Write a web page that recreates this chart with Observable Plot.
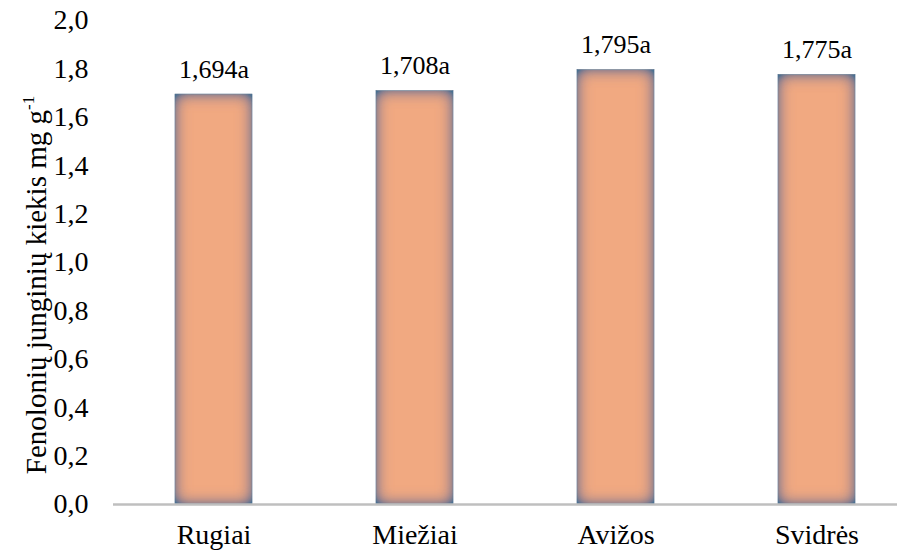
<!DOCTYPE html>
<html>
<head>
<meta charset="utf-8">
<script src="https://cdn.jsdelivr.net/npm/d3@7"></script>
<script src="https://cdn.jsdelivr.net/npm/@observablehq/plot@0.6"></script>
<style>
  html, body { margin: 0; padding: 0; background: #fff; }
  #chart { width: 913px; height: 554px; }
  text { font-family: "Liberation Serif" !important; }
</style>
</head>
<body>
<div id="chart"></div>
<script>
const categories = ["Rugiai", "Miežiai", "Avižos", "Svidrės"];
const values = [1.694, 1.708, 1.795, 1.775];
const letters = ["a", "a", "a", "a"];
const yTicks = [0, 0.2, 0.4, 0.6, 0.8, 1.0, 1.2, 1.4, 1.6, 1.8, 2.0];

const data = categories.map((c, i) => ({cat: c, v: values[i], lab: values[i].toFixed(3).replace(".", ",") + letters[i]}));
const comma = d => d.toFixed(1).replace(".", ",");
const font = "Liberation Serif";

const chart = Plot.plot({
  width: 913,
  height: 554,
  marginLeft: 113,
  marginRight: 16,
  marginTop: 20,
  marginBottom: 50,
  style: {fontFamily: font},
  x: {domain: categories, range: [113, 917], paddingInner: 0.617, paddingOuter: 0.3085},
  y: {domain: [0, 2]},
  marks: [
    Plot.barY(data, {x: "cat", y: "v", fill: "#F1A981", stroke: "#8fa1b0", strokeWidth: 0.5}),
    Plot.ruleY([0], {stroke: "#bfbfbf", strokeWidth: 2.5}),
    Plot.axisY(yTicks, {tickFormat: comma, tickSize: 0, tickPadding: 25, label: null, fontFamily: font, fontSize: 28, fill: "#000"}),
    Plot.axisX({tickSize: 0, tickPadding: 20, label: null, fontFamily: font, fontSize: 28, fill: "#000"}),
    Plot.text(data, {x: "cat", y: "v", text: "lab", dy: -25, fill: "#000", fontSize: 26, fontFamily: font})
  ]
});

const svg = d3.select(chart);
svg.attr("font-family", font).style("color", "#000").style("background", "#fff");
svg.selectAll("text").attr("font-family", font);

const defs = svg.insert("defs", ":first-child");
const f = defs.append("filter").attr("id", "innerShade")
  .attr("x", "-20%").attr("y", "-20%").attr("width", "140%").attr("height", "140%");
f.append("feFlood").attr("flood-color", "#4a7091").attr("result", "flood");
f.append("feComposite").attr("in", "flood").attr("in2", "SourceAlpha").attr("operator", "out").attr("result", "outside");
f.append("feGaussianBlur").attr("in", "outside").attr("stdDeviation", 8).attr("result", "blur");
const ct = f.append("feComponentTransfer").attr("in", "blur").attr("result", "boost");
ct.append("feFuncA").attr("type", "linear").attr("slope", 1.5).attr("intercept", 0);
f.append("feComposite").attr("in", "boost").attr("in2", "SourceAlpha").attr("operator", "in").attr("result", "shadow");
const m = f.append("feMerge");
m.append("feMergeNode").attr("in", "SourceGraphic");
m.append("feMergeNode").attr("in", "shadow");
svg.selectAll("g[aria-label='bar'] rect").attr("filter", "url(#innerShade)");

// y-axis title with superscript
svg.append("text")
  .attr("transform", "translate(46,285) rotate(-90)")
  .attr("text-anchor", "middle")
  .attr("font-family", font)
  .attr("font-size", 29)
  .attr("fill", "#000")
  .call(t => {
    t.append("tspan").text("Fenolonių junginių kiekis mg g");
    t.append("tspan").attr("font-size", 17).attr("dy", -12).text("-1");
  });

document.getElementById("chart").appendChild(chart);
</script>
</body>
</html>
